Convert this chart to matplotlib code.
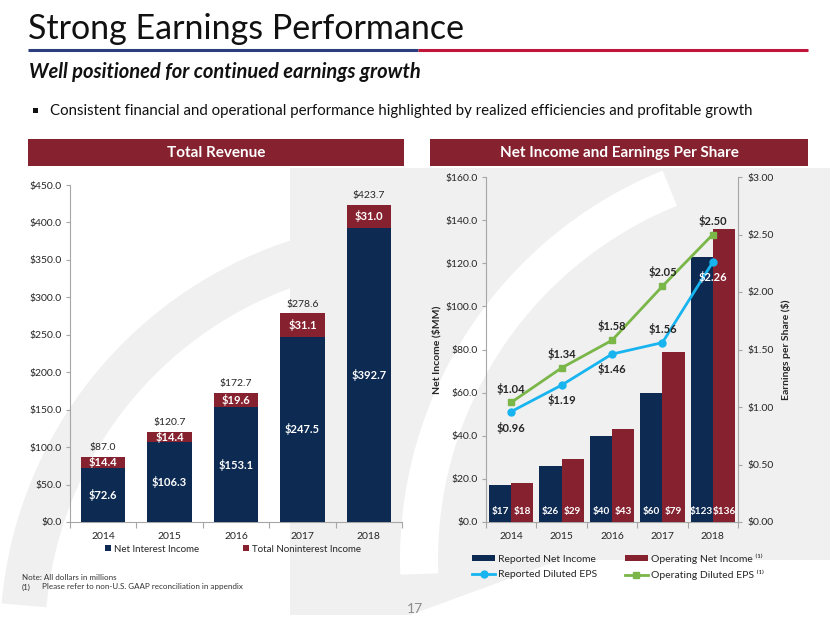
import matplotlib

matplotlib.use("Agg")
import matplotlib.pyplot as plt
import numpy as np
from matplotlib.patches import Polygon, Rectangle

plt.rcParams["font.family"] = ["Lato", "DejaVu Sans"]

years = ["2014", "2015", "2016", "2017", "2018"]

# total revenue ($MM)
net_interest = [72.6, 106.3, 153.1, 247.5, 392.7]
noninterest = [14.4, 14.4, 19.6, 31.1, 31.0]
total_revenue = [87.0, 120.7, 172.7, 278.6, 423.7]

# net income ($MM) and EPS ($)
reported_ni = [17, 26, 40, 60, 123]
operating_ni = [18, 29, 43, 79, 136]
reported_eps = [0.96, 1.19, 1.46, 1.56, 2.26]
operating_eps = [1.04, 1.34, 1.58, 2.05, 2.50]

NAVY = "#0c2a52"
MAROON = "#86222f"
CYAN = "#18b4ef"
GREEN = "#7ab648"
TXT = "#262626"
GRID = "#a6a6a6"
WMARK = "#f0f0f0"

W, H = 830, 623
fig = plt.figure(figsize=(W / 100, H / 100), dpi=100)


def fx(px):
    return px / W


def fy(py):
    return 1 - py / H


def band(cx, cy, r, width, a0, a1, color):
    # arc band in pixel coords (y down), angles in degrees on screen
    t = np.radians(np.linspace(a0, a1, 80))
    outer = np.c_[cx + r * np.cos(t), cy - r * np.sin(t)]
    inner = np.c_[cx + (r - width) * np.cos(t[::-1]), cy - (r - width) * np.sin(t[::-1])]
    return Polygon(np.vstack([outer, inner]), closed=True, color=color, lw=0)


# background watermark + slide decoration, in pixel coords
bg = fig.add_axes([0, 0, 1, 1], zorder=-10)
bg.set_xlim(0, W)
bg.set_ylim(H, 0)
bg.axis("off")
bg.add_patch(Polygon([[290, 168], [830, 168], [830, 560], [560, 560],
                      [410, 615], [290, 615]], closed=True, color=WMARK, lw=0))
bg.add_patch(band(820, 560, 420, 38, 112, 182, "white"))
bg.add_patch(band(420, 640, 420, 45, 100, 175, WMARK))
bg.plot([28, 418], [50, 50], color="#2b3f7e", lw=2.2, solid_capstyle="butt")
bg.plot([418, 808], [50, 50], color="#c2153b", lw=2.2, solid_capstyle="butt")
bg.add_patch(Rectangle((28, 139), 376, 27, color=MAROON, lw=0))
bg.add_patch(Rectangle((430, 139), 378, 27, color=MAROON, lw=0))

fig.text(fx(28), fy(29), "Strong Earnings Performance", fontsize=24.5,
         color="#111111", va="center", ha="left")
fig.text(fx(29), fy(72), "Well positioned for continued earnings growth",
         fontsize=14.5, fontweight="bold", fontstyle="italic", color="#111111",
         va="center", ha="left")
bg.add_patch(Rectangle((33, 108), 5, 5, color="#111111", lw=0))
fig.text(fx(50), fy(111), "Consistent financial and operational performance "
         "highlighted by realized efficiencies and profitable growth",
         fontsize=10.8, color="#111111", va="center", ha="left")
fig.text(fx(216), fy(153), "Total Revenue", fontsize=11, fontweight="bold",
         color="white", va="center", ha="center")
fig.text(fx(619), fy(153), "Net Income and Earnings Per Share", fontsize=11,
         fontweight="bold", color="white", va="center", ha="center")

fig.text(fx(22), fy(578), "Note: All dollars in millions", fontsize=5.8,
         color="#333333", va="center")
fig.text(fx(22), fy(587), "(1)", fontsize=5.8, color="#333333", va="center")
fig.text(fx(42), fy(587), "Please refer to non-U.S. GAAP reconciliation in appendix",
         fontsize=5.8, color="#333333", va="center")
fig.text(fx(415), fy(609), "17", fontsize=10, color="#8c8c8c", ha="center",
         va="center")


def style_axis(ax):
    ax.set_facecolor("none")
    ax.spines["top"].set_visible(False)
    ax.spines["right"].set_visible(False)
    for s in ("left", "bottom"):
        ax.spines[s].set_color(GRID)
        ax.spines[s].set_linewidth(0.8)
    ax.set_xlim(-0.5, len(years) - 0.5)
    ax.set_xticks(range(len(years)))
    ax.set_xticklabels(years)
    ax.set_xticks(np.arange(-0.5, len(years)), minor=True)
    ax.tick_params(axis="x", which="major", length=0, pad=7, labelsize=7.5,
                   labelcolor=TXT)
    ax.tick_params(axis="x", which="minor", length=4, color=GRID, width=0.8)
    ax.tick_params(axis="y", length=3, color=GRID, width=0.8, labelsize=7.5,
                   labelcolor=TXT, pad=3)


# ---- Total Revenue ----
ax1 = fig.add_axes([fx(70), fy(522), fx(402 - 70), (522 - 185) / H])
style_axis(ax1)
x = np.arange(len(years))
ax1.bar(x, net_interest, width=0.67, color=NAVY, label="Net Interest Income",
        zorder=3)
ax1.bar(x, noninterest, width=0.67, bottom=net_interest, color=MAROON,
        label="Total Noninterest Income", zorder=3)
ax1.set_ylim(0, 450)
ax1.set_yticks(np.arange(0, 451, 50))
ax1.set_yticklabels([f"${v:.1f}" for v in np.arange(0, 451, 50)])
for i in range(len(years)):
    ax1.text(i, net_interest[i] / 2, f"${net_interest[i]:.1f}", color="white",
             fontsize=8, fontweight="bold", ha="center", va="center", zorder=4)
    ax1.text(i, net_interest[i] + noninterest[i] / 2, f"${noninterest[i]:.1f}",
             color="white", fontsize=8, fontweight="bold", ha="center",
             va="center", zorder=4)
    ax1.text(i, total_revenue[i] + 6, f"${total_revenue[i]:.1f}", color=TXT,
             fontsize=7.5, ha="center", va="bottom", zorder=4)
ax1.legend(loc="center", bbox_to_anchor=(fx(233), fy(549)),
           bbox_transform=fig.transFigure, ncol=2, frameon=False,
           fontsize=7, handlelength=0.6, handleheight=0.6, handletextpad=0.3,
           columnspacing=4.6, labelcolor=TXT)

# ---- Net Income and EPS ----
ax2 = fig.add_axes([fx(486), fy(522), fx(738 - 486), (522 - 177) / H])
style_axis(ax2)
bw = 0.44
b1 = ax2.bar(x - bw / 2, reported_ni, width=bw, color=NAVY,
             label="Reported Net Income", zorder=3)
b2 = ax2.bar(x + bw / 2, operating_ni, width=bw, color=MAROON,
             label="Operating Net Income ⁽¹⁾", zorder=3)
ax2.set_ylim(0, 160)
ax2.set_yticks(np.arange(0, 161, 20))
ax2.set_yticklabels([f"${v:.1f}" for v in np.arange(0, 161, 20)])
ax2.set_ylabel("Net Income ($MM)", fontsize=7.5, fontweight="bold", color=TXT,
               labelpad=3)
for i in range(len(years)):
    ax2.text(i - bw / 2, 5, f"${reported_ni[i]}", color="white", fontsize=7.2,
             fontweight="bold", ha="center", va="center", zorder=4)
    ax2.text(i + bw / 2, 5, f"${operating_ni[i]}", color="white", fontsize=7.2,
             fontweight="bold", ha="center", va="center", zorder=4)

ax3 = ax2.twinx()
ax3.set_facecolor("none")
ax3.spines["top"].set_visible(False)
ax3.spines["left"].set_visible(False)
ax3.spines["bottom"].set_visible(False)
ax3.spines["right"].set_color(GRID)
ax3.spines["right"].set_linewidth(0.8)
ax3.set_ylim(0, 3)
ax3.set_yticks(np.arange(0, 3.01, 0.5))
ax3.set_yticklabels([f"${v:.2f}" for v in np.arange(0, 3.01, 0.5)])
ax3.tick_params(axis="y", length=3, color=GRID, width=0.8, labelsize=7.5,
                labelcolor=TXT, pad=4)
ax3.set_ylabel("Earnings per Share ($)", fontsize=7.5, fontweight="bold",
               color=TXT, labelpad=5)
l1, = ax3.plot(x, reported_eps, color=CYAN, lw=2, marker="o", ms=5,
               label="Reported Diluted EPS", zorder=5)
l2, = ax3.plot(x, operating_eps, color=GREEN, lw=2, marker="s", ms=5,
               label="Operating Diluted EPS ⁽¹⁾", zorder=5)

# EPS label offsets in points
rep_off = [-11.5, -11, -11, 10, -11]
for i, v in enumerate(reported_eps):
    c = "white" if i == len(years) - 1 else TXT
    ax3.annotate(f"${v:.2f}", (i, v), xytext=(0, rep_off[i]),
                 textcoords="offset points", ha="center", va="center",
                 fontsize=8, fontweight="bold", color=c, zorder=6)
for i, v in enumerate(operating_eps):
    ax3.annotate(f"${v:.2f}", (i, v), xytext=(0, 10),
                 textcoords="offset points", ha="center", va="center",
                 fontsize=8, fontweight="bold", color=TXT, zorder=6)

fig.legend(handles=[b1, l1, b2, l2], loc="center",
           bbox_to_anchor=(fx(618), fy(567)), ncol=2, frameon=False,
           fontsize=7.5, handlelength=2.2, handleheight=0.5,
           handletextpad=0.3, columnspacing=2.6, labelspacing=0.55,
           labelcolor=TXT)

fig.savefig("out.png", dpi=100)
